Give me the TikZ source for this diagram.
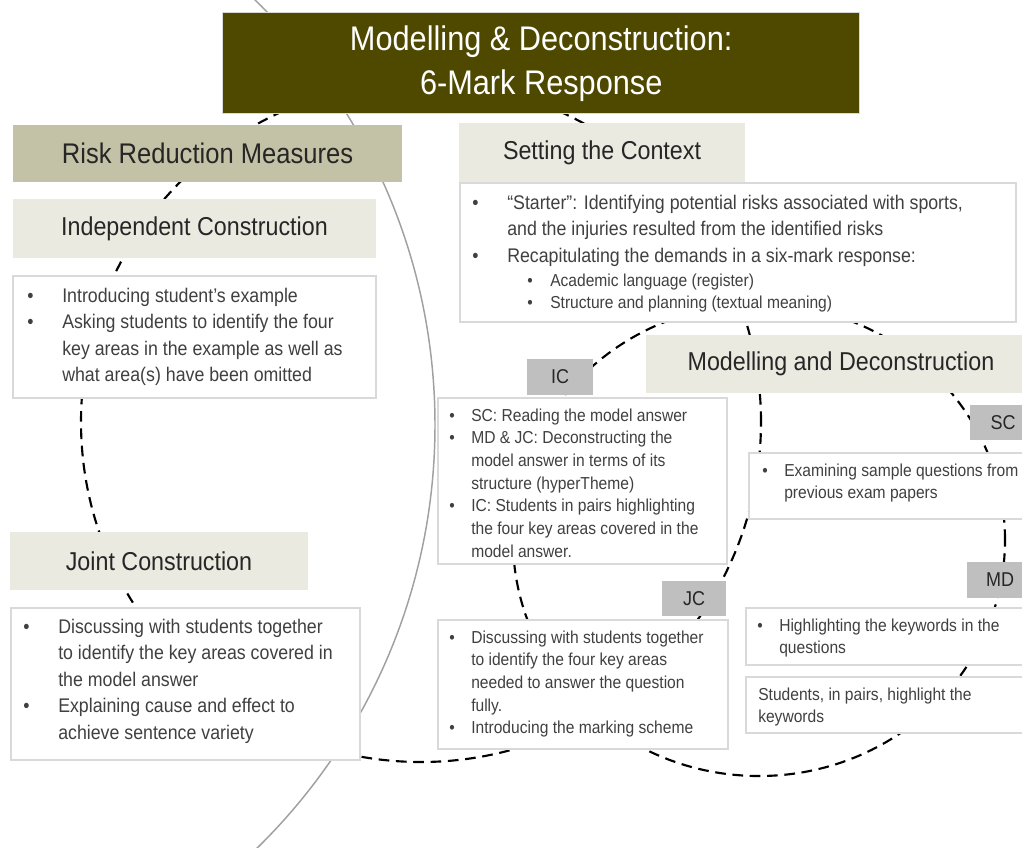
\documentclass[tikz,border=0pt]{standalone}
\usepackage{fontspec}
\setmainfont[FakeStretch=0.9]{Liberation Sans}

\definecolor{titleolive}{RGB}{79,73,0}
\definecolor{rrmkhaki}{RGB}{196,194,166}
\definecolor{headbeige}{RGB}{234,234,224}
\definecolor{taggray}{RGB}{191,191,191}
\definecolor{boxline}{RGB}{217,217,217}
\definecolor{arcgray}{RGB}{160,160,160}
\definecolor{headtext}{RGB}{38,38,38}
\definecolor{bodytext}{RGB}{64,64,64}

\newcommand{\titlefont}{\fontsize{25.6}{33}\selectfont}
\newcommand{\rrmfont}{\fontsize{21.3}{25}\selectfont}
\newcommand{\headfont}{\fontsize{19.4}{23}\selectfont}
\newcommand{\bodyLfont}{\fontsize{14.8}{19.9}\selectfont}
\newcommand{\bodySfont}{\fontsize{13}{17}\selectfont}
\newcommand{\tagfont}{\fontsize{15}{18}\selectfont}

\newcommand{\bulL}{\makebox[26.25pt][l]{\textbullet}}
\newcommand{\hangL}{\hspace*{26.25pt}}
\newcommand{\bulS}{\makebox[16.5pt][l]{\textbullet}}
\newcommand{\hangS}{\hspace*{16.5pt}}
\newcommand{\bulSub}{\makebox[17.25pt][l]{\textbullet}}

\begin{document}
\begin{tikzpicture}[x=0.75pt, y=-0.75pt,
  box/.style={draw=boxline, line width=1.1pt, fill=white, anchor=north west, inner sep=0pt, outer sep=0pt},
  headbox/.style={fill=headbeige, anchor=north west, inner sep=0pt, outer sep=0pt, font=\headfont, text=headtext},
  tagbox/.style={fill=taggray, anchor=north west, inner sep=0pt, outer sep=0pt, font=\tagfont, text=headtext},
  bodyL/.style={anchor=north west, inner sep=0pt, align=left, font=\bodyLfont, text=bodytext},
  bodyS/.style={anchor=north west, inner sep=0pt, align=left, font=\bodySfont, text=bodytext},
  loopline/.style={draw=black, line width=1.6pt, dash pattern=on 8pt off 5pt}]
  \useasboundingbox (0,0) rectangle (1022,847);
  \clip (0,0) rectangle (1022,847);

  % background arcs
  \draw[arcgray, line width=1.1pt] (-157,425) circle [radius=444pt];
  \draw[loopline] (421,422) circle [radius=255pt];
  \draw[loopline] (759,540) ellipse [x radius=184.5pt, y radius=177pt];

  % title
  \node[fill=titleolive, draw=boxline, line width=1.1pt, anchor=north west, inner sep=0pt,
        minimum width=477.75pt, minimum height=75.75pt, align=center, font=\titlefont, text=white]
        (title) at (222,12) {Modelling \& Deconstruction:\\6-Mark Response};

  % left column
  \node[headbox, fill=rrmkhaki, font=\rrmfont, minimum width=291.75pt, minimum height=42.75pt] (rrm) at (13,125) {Risk Reduction Measures};
  \node[headbox, minimum width=272.25pt, minimum height=44.25pt] (indep) at (13,199) {Independent Construction};
  \node[box, minimum width=272.25pt, minimum height=91.5pt] (indepbox) at (13,276) {};
  \node[bodyL] (indeplines) at (27,283.5) {\strut\bulL Introducing student's example\\
    \bulL Asking students to identify the four\\
    \hangL key areas in the example as well as\\
    \hangL what area(s) have been omitted};
  \node[headbox, minimum width=223.5pt, minimum height=43.5pt] (joint) at (10,532) {Joint Construction};
  \node[box, minimum width=261.75pt, minimum height=114pt] (jointbox) at (11,608) {};
  \node[bodyL] (jointlines) at (23,614.5) {\strut\bulL Discussing with students together\\
    \hangL to identify the key areas covered in\\
    \hangL the model answer\\
    \bulL Explaining cause and effect to\\
    \hangL achieve sentence variety};

  % context
  \node[headbox, minimum width=214.5pt, minimum height=44.25pt] (context) at (459,123) {Setting the Context};
  \node[box, minimum width=417pt, minimum height=104.25pt] (contextbox) at (460,183) {};
  \node[bodyL] (contextlines) at (472,190.5) {\strut\bulL “Starter”: Identifying potential risks associated with sports,\\
    \hangL and the injuries resulted from the identified risks\\
    \bulL Recapitulating the demands in a six-mark response:};
  \node[bodyS] (contextsub) at (527,270) {\strut\bulSub Academic language (register)\\
    \bulSub Structure and planning (textual meaning)};

  % middle column
  \node[tagbox, minimum width=49.5pt, minimum height=27pt] (ictag) at (527,359) {IC};
  \node[box, minimum width=216.75pt, minimum height=124.5pt] (icbox) at (438,398) {};
  \node[bodyS] (iclines) at (449,405) {\strut\bulS SC: Reading the model answer\\
    \bulS MD \& JC: Deconstructing the\\
    \hangS model answer in terms of its\\
    \hangS structure (hyperTheme)\\
    \bulS IC: Students in pairs highlighting\\
    \hangS the four key areas covered in the\\
    \hangS model answer.};
  \node[tagbox, minimum width=48pt, minimum height=26.25pt] (jctag) at (662,581) {JC};
  \node[box, minimum width=217.5pt, minimum height=96.75pt] (jcbox) at (438,620) {};
  \node[bodyS] (jclines) at (449,627) {\strut\bulS Discussing with students together\\
    \hangS to identify the four key areas\\
    \hangS needed to answer the question\\
    \hangS fully.\\
    \bulS Introducing the marking scheme};

  % right column
  \node[headbox, minimum width=292.5pt, minimum height=43.5pt] (model) at (646,335) {Modelling and Deconstruction};
  \node[tagbox, minimum width=49.5pt, minimum height=26.25pt] (sctag) at (970,405) {SC};
  \node[box, minimum width=215.25pt, minimum height=49.5pt] (exambox) at (749,453) {};
  \node[bodyS] (examlines) at (762,460) {\strut\bulS Examining sample questions from\\
    \hangS previous exam papers};
  \node[tagbox, minimum width=49.5pt, minimum height=27pt] (mdtag) at (967,562) {MD};
  \node[box, minimum width=217.5pt, minimum height=42.75pt] (highbox) at (746,608) {};
  \node[bodyS] (highlines) at (757,615) {\strut\bulS Highlighting the keywords in the\\
    \hangS questions};
  \node[box, minimum width=217.5pt, minimum height=42pt] (studbox) at (746,677) {};
  \node[bodyS] (studlines) at (758,684) {\strut Students, in pairs, highlight the\\
    keywords};
\end{tikzpicture}
\end{document}
